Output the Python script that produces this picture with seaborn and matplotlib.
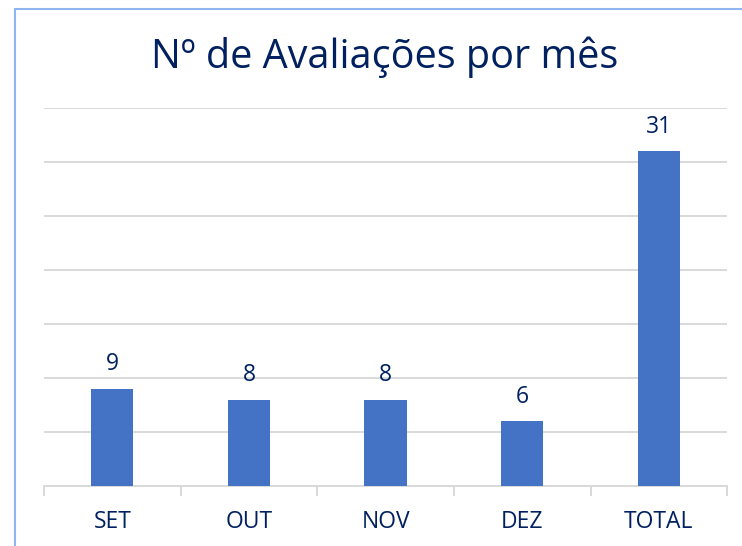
import matplotlib
matplotlib.use("Agg")
import matplotlib.pyplot as plt
import matplotlib.patches as patches
import seaborn as sns
import pandas as pd

months = ['SET', 'OUT', 'NOV', 'DEZ', 'TOTAL']
avaliacoes = [9, 8, 8, 6, 31]
title = 'Nº de Avaliações por mês'

navy = '#002060'
bar_color = '#4472c4'
grid_color = '#d9d9d9'

sns.set_style('white')
plt.rcParams['font.family'] = ['Open Sans', 'DejaVu Sans']

df = pd.DataFrame({'Mes': months, 'Avaliacoes': avaliacoes})

fig = plt.figure(figsize=(7.42, 5.46), dpi=100)
ax = fig.add_axes([0.0593, 0.1099, 0.9207, 0.6923])

sns.barplot(data=df, x='Mes', y='Avaliacoes', color=bar_color, width=0.31,
            saturation=1, linewidth=0, ax=ax, zorder=3)

ax.set_ylim(0, 35)
ax.set_yticks(range(0, 36, 5))
ax.set_xlim(-0.5, len(months) - 0.5)
ax.yaxis.grid(True, color=grid_color, linewidth=1.4, zorder=0)
ax.set_axisbelow(True)
ax.tick_params(axis='y', left=False, labelleft=False)

for side in ['top', 'right', 'left']:
    ax.spines[side].set_visible(False)
ax.spines['bottom'].set_color(grid_color)
ax.spines['bottom'].set_linewidth(1.4)

ax.set_xticks(range(len(months)))
ax.set_xticklabels(months, color=navy, fontsize=16.5)
ax.tick_params(axis='x', which='major', bottom=False, pad=14)
ax.set_xticks([i - 0.5 for i in range(len(months) + 1)], minor=True)
ax.tick_params(axis='x', which='minor', bottom=True, length=7, width=1.4,
               color=grid_color)
ax.set_xlabel('')
ax.set_ylabel('')

for c in ax.containers:
    ax.bar_label(c, color=navy, fontsize=16.5, padding=9)

fig.text(0.519, 0.895, title, ha='center', va='center', color=navy, fontsize=28.5)

border = patches.Rectangle((15 / 742, -0.1), 1.2, 0.9835 + 0.1, transform=fig.transFigure,
                           fill=False, edgecolor='#8fb4f0', linewidth=1.5, clip_on=False)
fig.patches.append(border)

fig.savefig('out.png', dpi=100, facecolor='white')
